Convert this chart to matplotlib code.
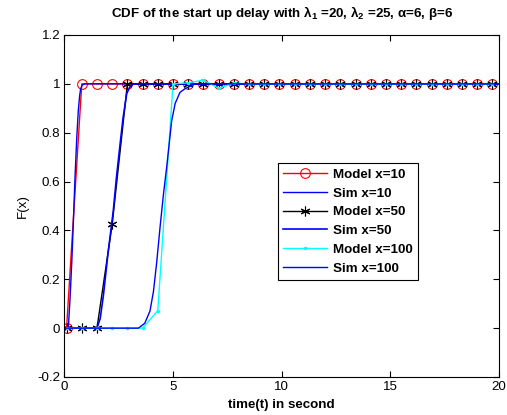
import numpy as np
import matplotlib
matplotlib.use("Agg")
import matplotlib.pyplot as plt
from matplotlib.ticker import FuncFormatter

plt.rcParams["font.family"] = ["Liberation Sans", "DejaVu Sans"]
plt.rcParams["mathtext.fontset"] = "custom"
plt.rcParams["mathtext.rm"] = "Liberation Sans"
plt.rcParams["mathtext.it"] = "Liberation Sans"
plt.rcParams["mathtext.default"] = "regular"

# ── Model curves (sampled every 0.7 s starting at 0.1 s) ────────
model_t = np.arange(0.1, 20.0, 0.7)
model10 = [0, 1, 1, 1, 1, 1, 1, 1, 1, 1, 1, 1, 1, 1, 1, 1, 1, 1, 1, 1, 1, 1, 1, 1, 1, 1, 1, 1, 1]
model50 = [0, 0, 0, 0.425, 1, 1, 1, 1, 1, 1, 1, 1, 1, 1, 1, 1, 1, 1, 1, 1, 1, 1, 1, 1, 1, 1, 1, 1, 1]
model100 = [0, 0, 0, 0, 0, 0, 0.072, 1.0, 1.004, 1.015, 0.982, 1.003, 1, 1, 1, 1, 1, 1, 1, 1,
            1, 1, 1, 1, 1, 1, 1, 1, 1]

# ── Simulation curves ───────────────────────────────────────────
sim10_t = [0.0, 0.18, 0.26, 0.34, 0.42, 0.49, 0.57, 0.64, 0.70, 0.75, 0.82, 0.95, 1.2, 20.0]
sim10_y = [0, 0, 0.12, 0.27, 0.45, 0.62, 0.78, 0.89, 0.95, 0.98, 0.995, 1.0, 1.0, 1.0]

sim50_t = [0.0, 1.5, 1.65, 1.8, 2.0, 2.25, 2.4, 2.56, 2.7, 2.87, 3.0, 3.18, 3.5, 20.0]
sim50_y = [0, 0, 0.04, 0.137, 0.3, 0.48, 0.62, 0.75, 0.86, 0.96, 0.985, 1.0, 1.0, 1.0]

sim100_t = [0.0, 3.41, 3.7, 3.94, 4.1, 4.25, 4.4, 4.55, 4.71, 4.94, 5.1, 5.32, 5.55, 5.78, 6.0, 20.0]
sim100_y = [0, 0, 0.02, 0.07, 0.15, 0.27, 0.41, 0.54, 0.66, 0.85, 0.92, 0.965, 0.98, 0.99, 1.0, 1.0]

# ── Plot ────────────────────────────────────────────────────────
fig = plt.figure(figsize=(5.07, 4.15), dpi=100)
ax = fig.add_axes([0.127, 0.0916, 0.857, 0.8241])

asterisk = (6, 2, 0)
ax.plot(model_t, model10, color="#ff0000", ls="-", marker="o", lw=1, ms=7, mfc="none", mew=0.8,
        label="Model x=10")
ax.plot(sim10_t, sim10_y, color="#0000ff", ls="-", lw=1, label="Sim x=10")
ax.plot(model_t, model50, color="k", ls="-", marker=asterisk, lw=1, ms=7, mew=0.8,
        label="Model x=50")
ax.plot(sim50_t, sim50_y, color="#0000ff", ls="-", lw=1.2, label="Sim x=50")
ax.plot(model_t, model100, color="#00ffff", ls="-", marker=".", lw=1, ms=3, label="Model x=100")
ax.plot(sim100_t, sim100_y, color="#0000ff", ls="-", lw=1, label="Sim x=100")

ax.set_xlim(0, 20)
ax.set_ylim(-0.2, 1.2)
ax.set_xticks([0, 5, 10, 15, 20])
ax.set_yticks([-0.2, 0, 0.2, 0.4, 0.6, 0.8, 1.0, 1.2])
ax.yaxis.set_major_formatter(FuncFormatter(lambda v, p: f"{v:g}"))
ax.tick_params(direction="in", top=True, right=True, labelsize=9.6, length=4, width=0.8, pad=3)
for s in ax.spines.values():
    s.set_linewidth(0.8)

ax.set_title(r"CDF of the start up delay with $\lambda_1$ =20, $\lambda_2$ =25, $\alpha$=6, $\beta$=6",
             fontsize=9.6, fontweight="bold", pad=13)
ax.set_xlabel("time(t) in second", fontsize=9.6, fontweight="bold", labelpad=4)
ax.set_ylabel("F(x)", fontsize=9.6, labelpad=6)

leg = ax.legend(loc="upper left", bbox_to_anchor=(0.492, 0.625),
                handlelength=3.3, handletextpad=0.4, labelspacing=0.48,
                borderpad=0.4, borderaxespad=0, fancybox=False, framealpha=1,
                edgecolor="black", prop={"weight": "bold", "size": 9.6})
leg.get_frame().set_linewidth(0.8)

plt.savefig("out.png", dpi=100)
